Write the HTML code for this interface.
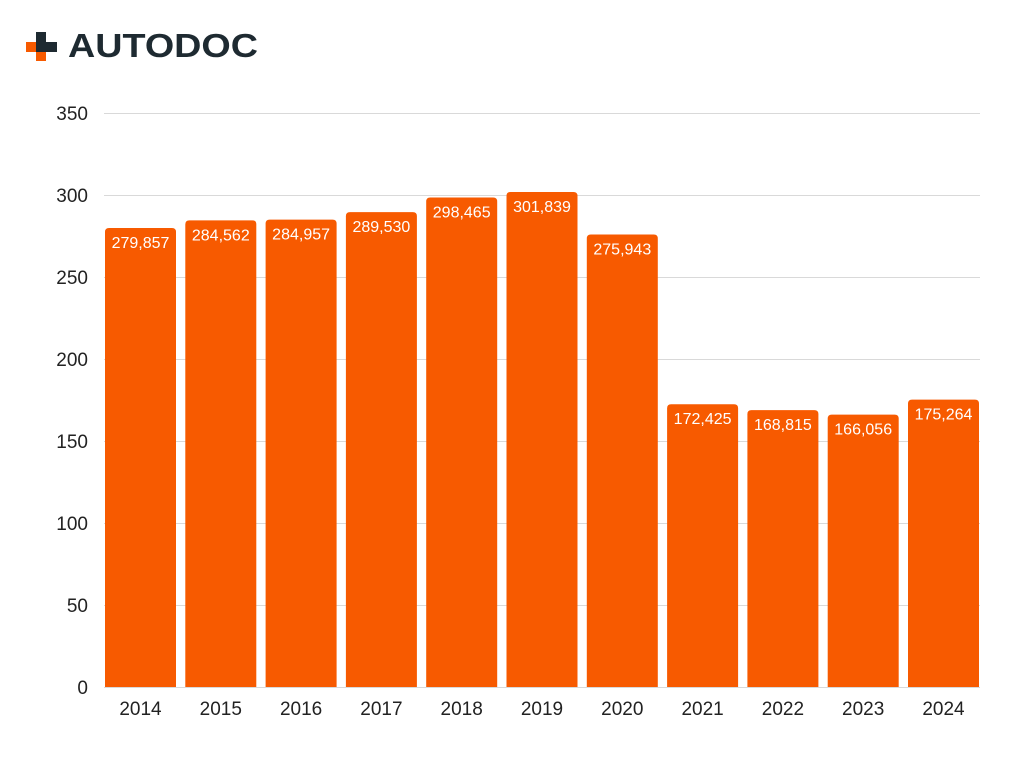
<!DOCTYPE html>
<html><head><meta charset="utf-8"><style>
body{margin:0;background:#fff;width:1024px;height:768px;overflow:hidden;font-family:"Liberation Sans",sans-serif}
</style></head><body>
<svg width="1024" height="768" xmlns="http://www.w3.org/2000/svg" font-family="Liberation Sans, sans-serif">
<rect x="26" y="42" width="31" height="10" fill="#f75a00"/>
<rect x="36" y="32" width="10" height="29" fill="#f75a00"/>
<rect x="36" y="32" width="10" height="20" fill="#1e2a31"/>
<rect x="36" y="42" width="21" height="10" fill="#1e2a31"/>
<text x="68" y="57" font-size="33" font-weight="bold" fill="#1e2a31" textLength="190" lengthAdjust="spacingAndGlyphs">AUTODOC</text>
<g stroke="#d9d9d9" stroke-width="1">
<line x1="104" x2="980" y1="113.5" y2="113.5"/><line x1="104" x2="980" y1="195.5" y2="195.5"/>
<line x1="104" x2="980" y1="277.5" y2="277.5"/><line x1="104" x2="980" y1="359.5" y2="359.5"/>
<line x1="104" x2="980" y1="441.5" y2="441.5"/><line x1="104" x2="980" y1="523.5" y2="523.5"/>
<line x1="104" x2="980" y1="605.5" y2="605.5"/><line x1="104" x2="980" y1="687.5" y2="687.5"/>
</g>
<g font-size="19" fill="#222" text-anchor="end">
<text x="88" y="120">350</text><text x="88" y="202">300</text><text x="88" y="284">250</text>
<text x="88" y="366">200</text><text x="88" y="448">150</text><text x="88" y="530">100</text>
<text x="88" y="612">50</text><text x="88" y="694">0</text>
</g>
<g id="bars" fill="#f75a00"></g>
<g id="lbl" font-size="16" fill="#fff" text-anchor="middle"></g>
<g id="yr" font-size="19" fill="#222" text-anchor="middle"></g>
<script>
var v=[279.857,284.562,284.957,289.530,298.465,301.839,275.943,172.425,168.815,166.056,175.264];
var s=["279,857","284,562","284,957","289,530","298,465","301,839","275,943","172,425","168,815","166,056","175,264"];
var ns="http://www.w3.org/2000/svg",b=document.getElementById("bars"),l=document.getElementById("lbl"),y=document.getElementById("yr");
for(var i=0;i<11;i++){var x=105+i*80.3,t=687-v[i]*1.64;
var r=document.createElementNS(ns,"path");
r.setAttribute("d","M"+x+" 687V"+(t+4)+"Q"+x+" "+t+" "+(x+4)+" "+t+"H"+(x+67)+"Q"+(x+71)+" "+t+" "+(x+71)+" "+(t+4)+"V687Z");b.appendChild(r);
var a=document.createElementNS(ns,"text");a.setAttribute("x",x+35.5);a.setAttribute("y",t+20);a.textContent=s[i];l.appendChild(a);
var c=document.createElementNS(ns,"text");c.setAttribute("x",x+35.5);c.setAttribute("y",715);c.textContent=2014+i;y.appendChild(c);}
</script>
</svg>
</body></html>
